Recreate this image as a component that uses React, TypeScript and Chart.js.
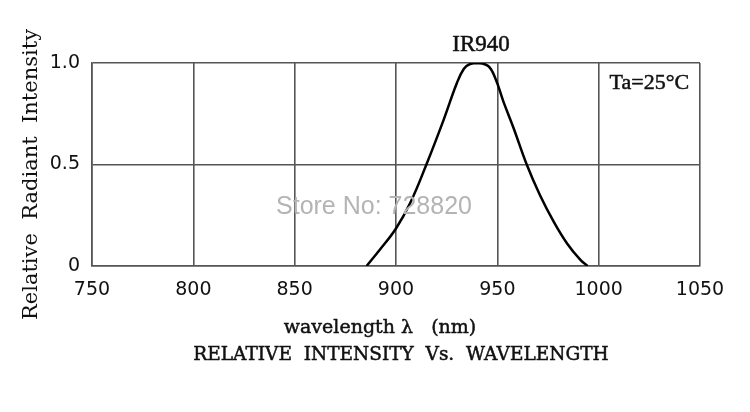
import { useEffect, useRef } from "react";
import Chart from "chart.js/auto";

// wavelength (nm) and relative radiant intensity
const wavelengths = [885.5, 892, 900, 907, 915, 923.5, 930, 933.5, 936.5, 940.5, 945.5, 949, 953, 958, 964.5, 971, 978, 984.5, 991, 994.5];
const intensity = [0, 0.08, 0.185, 0.31, 0.5, 0.72, 0.9, 0.972, 0.995, 1.0, 0.985, 0.925, 0.81, 0.68, 0.5, 0.35, 0.215, 0.11, 0.03, 0];

const xTicks = [750, 800, 850, 900, 950, 1000, 1050];
const yTicks = [0, 0.5, 1.0];

const serif = "'DejaVu Serif', serif";
const times = "'Liberation Serif', serif";
const sans = "'DejaVu Sans', sans-serif";

const drawHeavy = (ctx: CanvasRenderingContext2D, text: string, x: number, y: number) => {
  ctx.fillText(text, x, y);
  ctx.strokeText(text, x, y);
};

const notes = {
  id: "notes",
  afterDraw(chart: Chart) {
    const { ctx, scales } = chart;
    const x = scales.x;
    const y = scales.y;
    ctx.save();
    ctx.textAlign = "center";
    ctx.textBaseline = "middle";

    // watermark
    ctx.fillStyle = "#b4b4b4";
    ctx.font = "25px 'Liberation Sans', Arial, sans-serif";
    ctx.fillText("Store No: 728820", 374, 207);

    ctx.fillStyle = "#111";
    ctx.strokeStyle = "#111";
    ctx.lineWidth = 0.5;
    ctx.font = "23px " + times;
    drawHeavy(ctx, "IR940", x.getPixelForValue(942), 45);

    ctx.font = "22px " + times;
    drawHeavy(ctx, "Ta=25\u00b0C", x.getPixelForValue(1025), y.getPixelForValue(0.9));

    ctx.font = "19px " + serif;
    drawHeavy(ctx, "wavelength \u03bb   (nm)", 380, 328);
    ctx.font = "18.5px " + serif;
    drawHeavy(ctx, "RELATIVE  INTENSITY  Vs.  WAVELENGTH", 401, 355);
    ctx.restore();
  },
};

const App = () => {
  const chartRef = useRef<HTMLCanvasElement>(null);
  const chartInstanceRef = useRef<Chart>();

  useEffect(() => {
    if (!chartRef.current) return;
    const ctx = chartRef.current.getContext("2d");

    if (chartInstanceRef.current) {
      chartInstanceRef.current.destroy();
    }

    chartInstanceRef.current = new Chart(ctx!, {
      type: "scatter",
      data: {
        datasets: [
          {
            label: "IR940",
            data: wavelengths.map((w, i) => ({ x: w, y: intensity[i] })),
            showLine: true,
            borderColor: "#000",
            borderWidth: 2.5,
            pointRadius: 0,
            tension: 0.4,
          },
        ],
      },
      plugins: [notes],
      options: {
        animation: false,
        responsive: false,
        layout: { padding: { left: 0, right: 50, top: 63, bottom: 0 } },
        plugins: {
          legend: { display: false },
          tooltip: { enabled: false },
        },
        scales: {
          x: {
            type: "linear",
            min: 750,
            max: 1050,
            afterBuildTicks: (scale) => {
              scale.ticks = xTicks.map((v) => ({ value: v }));
            },
            afterFit: (scale) => {
              scale.height = 146;
            },
            grid: { color: "#555", lineWidth: 1.6, drawTicks: false },
            border: { color: "#555", width: 1.6 },
            ticks: {
              color: "#111",
              padding: 13,
              font: { family: sans, size: 19 },
              callback: (v) => String(v),
            },
          },
          y: {
            type: "linear",
            min: 0,
            max: 1,
            afterBuildTicks: (scale) => {
              scale.ticks = yTicks.map((v) => ({ value: v }));
            },
            afterFit: (scale) => {
              scale.width = 92;
            },
            grid: { color: "#555", lineWidth: 1.6, drawTicks: false },
            border: { color: "#555", width: 1.6 },
            ticks: {
              color: "#111",
              padding: 12,
              font: { family: sans, size: 19 },
              callback: (v) => (Number(v) === 0 ? "0" : Number(v).toFixed(1)),
            },
            title: {
              display: true,
              text: "Relative  Radiant  Intensity   ",
              color: "#111",
              padding: { top: 19, bottom: 0 },
              font: { family: serif, size: 21 },
            },
          },
        },
      },
    });

    return () => {
      if (chartInstanceRef.current) {
        chartInstanceRef.current.destroy();
      }
    };
  }, []);

  return (
    <div style={{ position: "fixed", left: 0, top: 0, width: 750, height: 412, background: "#fff" }}>
      <canvas ref={chartRef} width={750} height={412}></canvas>
    </div>
  );
};

export default App;
